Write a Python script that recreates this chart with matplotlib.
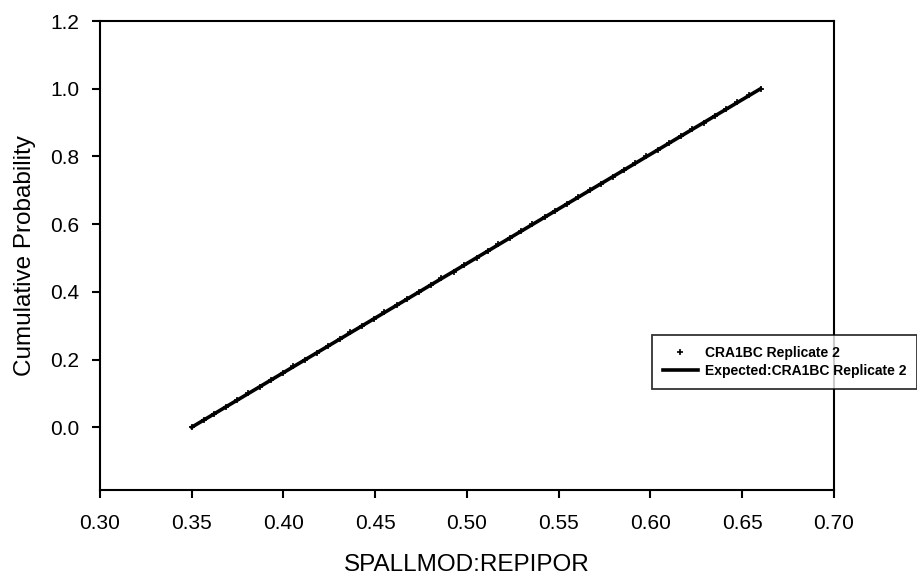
import numpy as np
import matplotlib.pyplot as plt

plt.rcParams["font.family"] = ["Liberation Sans", "DejaVu Sans"]

# observed sample (empirical CDF)
obs_x = [0.3500, 0.3565, 0.3622, 0.3688, 0.3748, 0.3805, 0.3872, 0.3934, 0.3996, 0.4052,
         0.4118, 0.4184, 0.4241, 0.4306, 0.4363, 0.4428, 0.4494, 0.4549, 0.4617, 0.4672,
         0.4738, 0.4803, 0.4861, 0.4927, 0.4984, 0.5052, 0.5112, 0.5171, 0.5236, 0.5293,
         0.5357, 0.5424, 0.5481, 0.5546, 0.5604, 0.5668, 0.5732, 0.5793, 0.5857, 0.5914,
         0.5978, 0.6043, 0.6102, 0.6166, 0.6225, 0.6292, 0.6352, 0.6412, 0.6474, 0.6536,
         0.6600]
obs_y = [0.00, 0.02, 0.04, 0.06, 0.08, 0.10, 0.12, 0.14, 0.16, 0.18,
         0.20, 0.22, 0.24, 0.26, 0.28, 0.30, 0.32, 0.34, 0.36, 0.38,
         0.40, 0.42, 0.44, 0.46, 0.48, 0.50, 0.52, 0.54, 0.56, 0.58,
         0.60, 0.62, 0.64, 0.66, 0.68, 0.70, 0.72, 0.74, 0.76, 0.78,
         0.80, 0.82, 0.84, 0.86, 0.88, 0.90, 0.92, 0.94, 0.96, 0.98,
         1.00]

# expected uniform CDF
exp_x = [0.35, 0.66]
exp_y = [0.0, 1.0]

x_ticks = [0.30, 0.35, 0.40, 0.45, 0.50, 0.55, 0.60, 0.65, 0.70]
y_ticks = [0.0, 0.2, 0.4, 0.6, 0.8, 1.0, 1.2]

fig = plt.figure(figsize=(9.17, 5.76), dpi=100)
ax = fig.add_axes([0.109, 0.149, 0.8005, 0.8145])

ax.plot(exp_x, exp_y, color="black", linewidth=2.6, label="Expected:CRA1BC Replicate 2", zorder=2)
ax.plot(obs_x, obs_y, linestyle="none", marker="+", markersize=4, markeredgewidth=1.2,
        color="black", label="CRA1BC Replicate 2", zorder=3)

ax.set_xlim(0.30, 0.70)
ax.set_ylim(-0.186, 1.2)
ax.set_xticks(x_ticks)
ax.set_xticklabels([f"{v:.2f}" for v in x_ticks])
ax.set_yticks(y_ticks)
ax.set_yticklabels([f"{v:.1f}" for v in y_ticks])

for s in ax.spines.values():
    s.set_linewidth(1.5)
    s.set_color("black")
ax.tick_params(direction="out", length=6, width=1.5, labelsize=15, colors="black")
ax.tick_params(axis="x", pad=11)
ax.tick_params(axis="y", pad=9)

ax.set_xlabel("SPALLMOD:REPIPOR", fontsize=17.5, labelpad=15)
ax.set_ylabel("Cumulative Probability", fontsize=17.5, labelpad=10)

h, l = ax.get_legend_handles_labels()
leg = fig.legend(h[::-1], l[::-1], loc="upper left", bbox_to_anchor=(652 / 917, 1 - 335 / 576),
                 prop={"weight": "bold", "size": 10}, frameon=True, fancybox=False,
                 edgecolor="black", borderpad=0.8, handlelength=2.5, handletextpad=0.5,
                 labelspacing=0.3, borderaxespad=0, markerscale=1.2)
leg.get_frame().set_linewidth(1.3)
leg.set_zorder(5)

fig.savefig("out.png", dpi=100)
